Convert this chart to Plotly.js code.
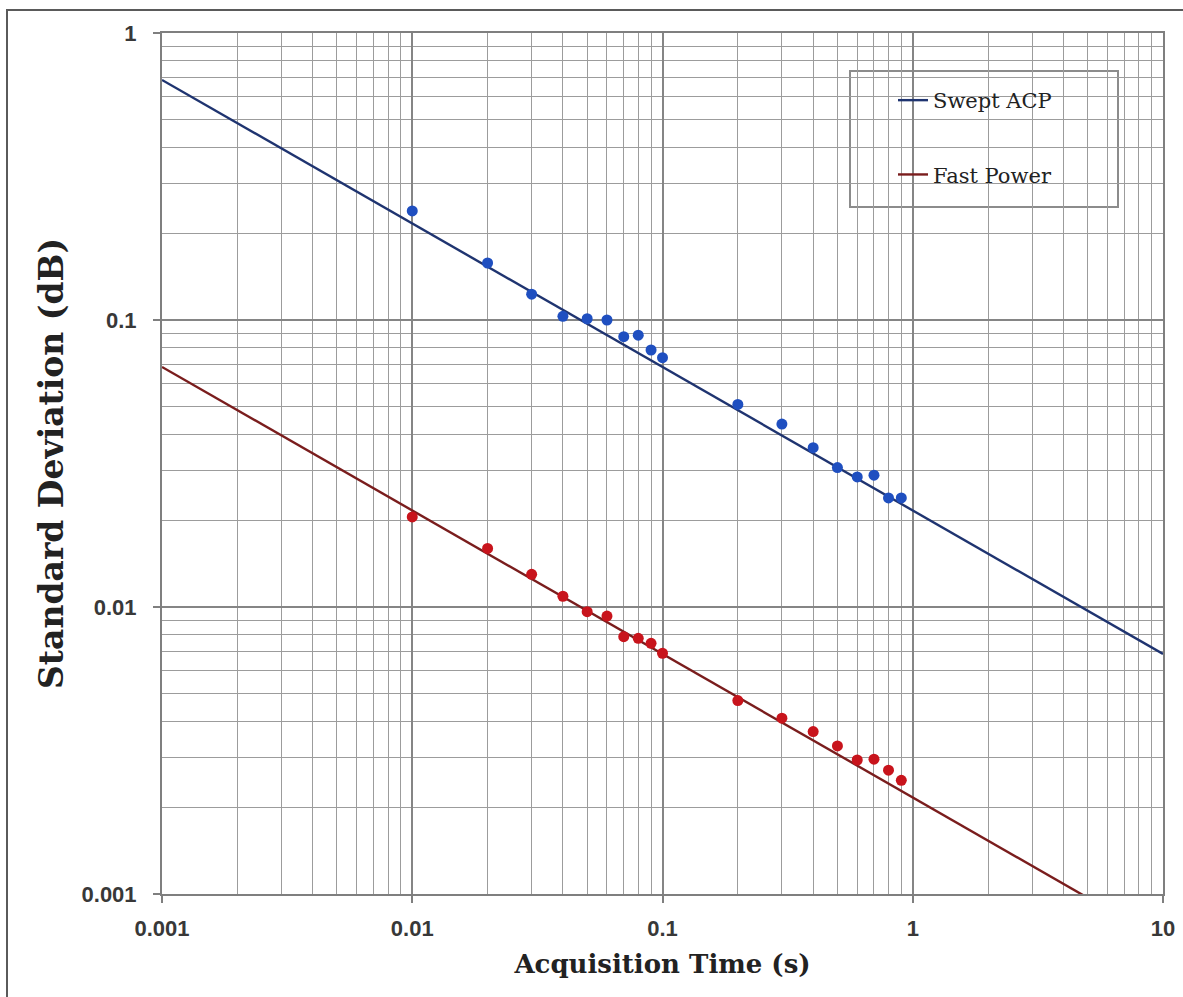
<!DOCTYPE html>
<html>
<head>
<meta charset="utf-8">
<script src="https://cdn.plot.ly/plotly-3.0.1.min.js"></script>
<style>
  html, body { margin: 0; padding: 0; background: #ffffff; }
  #chart { width: 1183px; height: 997px; }
  #frame { position: absolute; left: 6px; top: 9px; width: 1200px; height: 1000px;
           border-left: 2px solid #5a5a5a; border-top: 2px solid #5a5a5a; pointer-events: none; }
</style>
</head>
<body>
<div id="chart"></div>
<div id="frame"></div>
<script>
// Acquisition times (s)
const acqTime = [0.01, 0.02, 0.03, 0.04, 0.05, 0.06, 0.07, 0.08, 0.09, 0.1,
                 0.2, 0.3, 0.4, 0.5, 0.6, 0.7, 0.8, 0.9];
// Measured standard deviation (dB)
const sweptACP = [0.240, 0.158, 0.123, 0.103, 0.101, 0.100, 0.0875, 0.0885, 0.0786, 0.0739,
                  0.0508, 0.0434, 0.0359, 0.0306, 0.0284, 0.0288, 0.0240, 0.0240];
const fastPower = [0.0206, 0.0160, 0.0130, 0.0109, 0.00963, 0.00930, 0.00788, 0.00778, 0.00747, 0.00690,
                   0.00472, 0.00410, 0.00368, 0.00328, 0.00293, 0.00295, 0.00270, 0.00249];
// Trend lines (read at the ends of the axis)
const trendX = [0.001, 10];
const sweptTrend = [0.686, 0.00686];
const fastTrend = [0.0686, 0.000686];
// Tick labels
const xTickVals = [0.001, 0.01, 0.1, 1, 10];
const xTickText = ['0.001', '0.01', '0.1', '1', '10'];
const yTickVals = [0.001, 0.01, 0.1, 1];
const yTickText = ['0.001', '0.01', '0.1', '1'];

const traces = [
  { x: trendX, y: sweptTrend, type: 'scatter', mode: 'lines', name: 'Swept ACP',
    line: { color: '#1f3470', width: 2.4 }, legendgroup: 'a' },
  { x: trendX, y: fastTrend, type: 'scatter', mode: 'lines', name: 'Fast Power',
    line: { color: '#7a1d1d', width: 2.4 }, legendgroup: 'b' },
  { x: acqTime, y: sweptACP, type: 'scatter', mode: 'markers', showlegend: false,
    marker: { color: '#1f4fc0', size: 11 } },
  { x: acqTime, y: fastPower, type: 'scatter', mode: 'markers', showlegend: false,
    marker: { color: '#c8141c', size: 11 } }
];

const axisCommon = {
  type: 'log',
  showline: true, linecolor: '#7f7f7f', linewidth: 2, mirror: true,
  showgrid: true, gridcolor: '#858585', gridwidth: 2,
  ticks: 'outside', ticklen: 7, tickcolor: '#7f7f7f', tickwidth: 2,
  tickfont: { family: 'Liberation Sans, Arial, sans-serif', size: 22, color: '#383838', weight: 'bold' },
  minor: { dtick: 'D1', showgrid: true, gridcolor: '#9c9c9c', gridwidth: 1, ticks: '' },
  zeroline: false
};

const layout = {
  width: 1183, height: 997,
  margin: { l: 162, r: 20, t: 33, b: 103 },
  paper_bgcolor: '#ffffff', plot_bgcolor: '#ffffff',
  showlegend: true,
  xaxis: Object.assign({}, axisCommon, {
    range: [-3, 1], tickmode: 'array', tickvals: xTickVals, ticktext: xTickText,
    ticklabelstandoff: 7,
    title: { text: 'Acquisition Time (s)', standoff: 14,
             font: { family: 'DejaVu Serif, serif', size: 26, color: '#222222', weight: 'bold' } }
  }),
  yaxis: Object.assign({}, axisCommon, {
    range: [-3, 0], tickmode: 'array', tickvals: yTickVals, ticktext: yTickText,
    ticklabelstandoff: 12,
    title: { text: 'Standard Deviation (dB)', standoff: 8,
             font: { family: 'DejaVu Serif, serif', size: 33, color: '#222222', weight: 'bold' } }
  }),
  legend: {
    font: { family: 'DejaVu Serif, serif', size: 21, color: '#222222' },
    bgcolor: 'rgba(0,0,0,0)', borderwidth: 0,
    tracegroupgap: 44, itemwidth: 30,
    xanchor: 'left', yanchor: 'top'
  },
  shapes: [
    { type: 'rect', xref: 'paper', yref: 'paper', layer: 'below',
      x0: (850 - 162) / 1001, x1: (1118 - 162) / 1001,
      y0: (894 - 207) / 861, y1: (894 - 71) / 861,
      fillcolor: '#ffffff', line: { color: '#8c8c8c', width: 2 } }
  ]
};
// legend position in paper coords
layout.legend.x = (893 - 162) / 1001;
layout.legend.y = (894 - 80) / 861;

Plotly.newPlot('chart', traces, layout, { staticPlot: true, displayModeBar: false });
</script>
</body>
</html>
